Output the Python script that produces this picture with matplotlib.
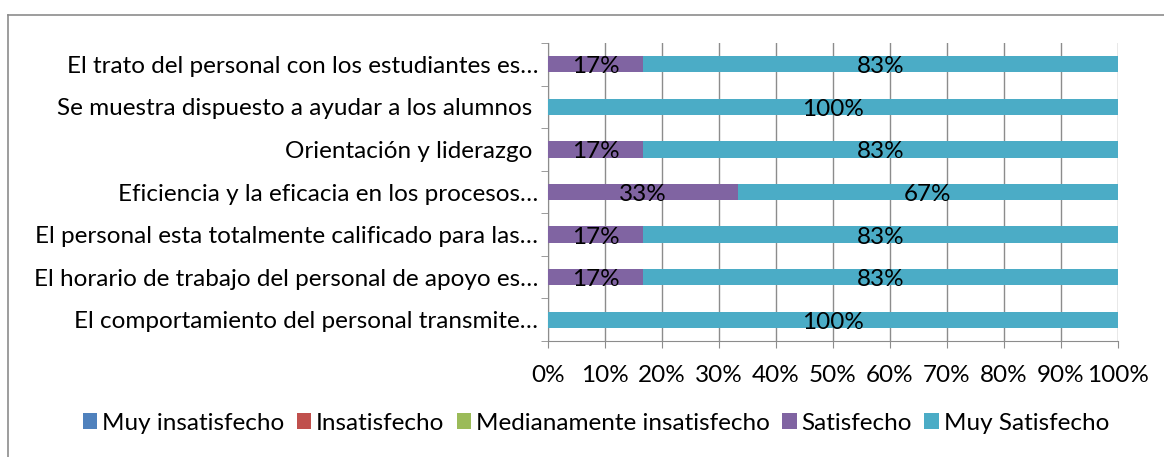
import matplotlib.pyplot as plt
from matplotlib.lines import Line2D

# categories, top to bottom as in the chart
categories = [
    "El trato del personal con los estudiantes es…",
    "Se muestra dispuesto a ayudar a los alumnos ",
    "Orientación y liderazgo ",
    "Eficiencia y la eficacia en los procesos…",
    "El personal esta totalmente calificado para las…",
    "El horario de trabajo del personal de apoyo es…",
    "El comportamiento del personal transmite…",
]
series_names = ["Muy insatisfecho", "Insatisfecho", "Medianamente insatisfecho",
                "Satisfecho", "Muy Satisfecho"]
muy_insatisfecho = [0, 0, 0, 0, 0, 0, 0]
insatisfecho = [0, 0, 0, 0, 0, 0, 0]
medianamente = [0, 0, 0, 0, 0, 0, 0]
satisfecho = [16.67, 0, 16.67, 33.33, 16.67, 16.67, 0]
muy_satisfecho = [83.33, 100, 83.33, 66.67, 83.33, 83.33, 100]
colors = ["#4F81BD", "#C0504D", "#9BBB59", "#8064A2", "#4BACC6"]
xticks = [0, 10, 20, 30, 40, 50, 60, 70, 80, 90, 100]

plt.rcParams['font.family'] = ['Lato', 'DejaVu Sans']
FS = 17.5

fig = plt.figure(figsize=(11.64, 4.57), dpi=100)
# chart-area border: only top and left edges fall inside the picture
x0, y0 = 8 / 1164, 1 - 15 / 457
fig.add_artist(Line2D([x0, 1], [y0, y0], transform=fig.transFigure,
                      color="#8c8c8c", linewidth=1.2))
fig.add_artist(Line2D([x0, x0], [0, y0], transform=fig.transFigure,
                      color="#8c8c8c", linewidth=1.2))
ax = fig.add_axes([548 / 1164, 1 - 341 / 457, 570 / 1164, 298 / 457])

ypos = list(range(len(categories)))
all_series = [muy_insatisfecho, insatisfecho, medianamente, satisfecho, muy_satisfecho]
left = [0] * len(categories)
for name, vals, col in zip(series_names, all_series, colors):
    bars = ax.barh(ypos, vals, left=left, height=0.38, color=col, label=name, zorder=3)
    for b, v, l in zip(bars, vals, left):
        if v > 0:
            ax.text(l + v / 2, b.get_y() + b.get_height() / 2 + 0.06, f"{round(v)}%",
                    ha="center", va="center", fontsize=FS, color="black", zorder=4)
    left = [a + b for a, b in zip(left, vals)]

ax.set_ylim(len(categories) - 0.5, -0.5)
ax.set_xlim(0, 100)
ax.set_yticks(ypos)
ax.set_yticklabels(categories, fontsize=FS)
ax.set_yticks([i - 0.5 for i in range(len(categories) + 1)], minor=True)
ax.tick_params(axis="y", which="major", length=0, pad=7)
ax.tick_params(axis="y", which="minor", length=5, color="#8c8c8c")
ax.set_xticks(xticks)
ax.set_xticklabels([f"{t}%" for t in xticks], fontsize=FS)
ax.tick_params(axis="x", length=5, color="#8c8c8c", pad=12)
ax.grid(axis="x", color="#8c8c8c", linewidth=1, zorder=0)
for s in ["top", "right"]:
    ax.spines[s].set_visible(False)
for s in ["left", "bottom"]:
    ax.spines[s].set_color("#8c8c8c")

fig.legend(loc="center", bbox_to_anchor=(596 / 1164, 1 - 423 / 457), ncol=5,
           fontsize=FS, frameon=False, handlelength=0.6, handleheight=0.6,
           handletextpad=0.2, columnspacing=0.5)

fig.savefig("out.png", dpi=100)
